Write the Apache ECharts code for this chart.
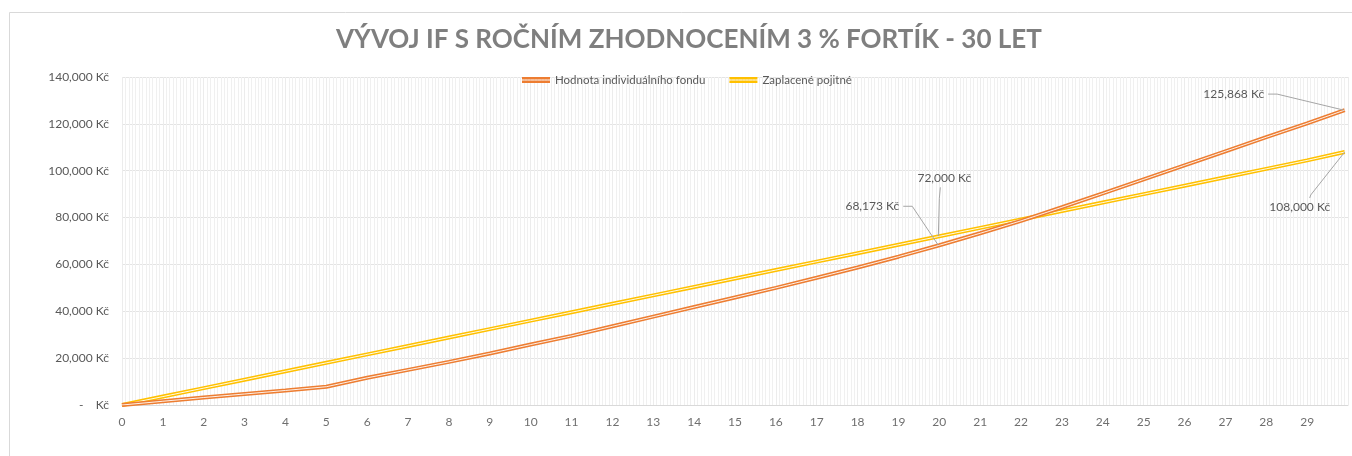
<!DOCTYPE html>
<html>
<head>
<meta charset="utf-8">
<script src="https://cdn.jsdelivr.net/npm/echarts@6/dist/echarts.min.js"></script>
<style>
  html, body { margin: 0; padding: 0; background: #fff; }
  #chart { width: 1352px; height: 456px; }
</style>
</head>
<body>
<div id="chart"></div>
<script>
// roky (posledni bod = 359. mesic)
const years = [0, 1, 2, 3, 4, 5, 6, 7, 8, 9, 10, 11, 12, 13, 14, 15, 16, 17, 18, 19, 20, 21, 22, 23, 24, 25, 26, 27, 28, 29, 29.92];
// Hodnota individualniho fondu
const fundValue = [0, 1600, 3200, 4700, 6200, 7800, 11600, 15000, 18400, 22000, 25800, 29500, 33600, 37700, 41800, 45900, 50000, 54300, 58700, 63300, 68173, 73300, 78600, 84400, 90300, 96300, 102300, 108300, 114300, 120200, 125868];
// Zaplacene pojistne
const paidPremium = [0, 3600, 7200, 10800, 14400, 18000, 21600, 25200, 28800, 32400, 36000, 39600, 43200, 46800, 50400, 54000, 57600, 61200, 64800, 68400, 72000, 75600, 79200, 82800, 86400, 90000, 93600, 97200, 100800, 104400, 108000];
// popisky v grafu (index do years)
const annotIdx = [20, 30];

const FUND = 'Hodnota individuálního fondu';
const PAID = 'Zaplacené pojitné';
const orange = '#ED7D31';
const yellow = '#FFC000';
const font = 'Lato, "Open Sans", sans-serif';

function pairs(vals) {
  return years.map((y, i) => [y, vals[i]]);
}
function kc(v) {
  return v.toLocaleString('en-US') + ' Kč';
}

const chart = echarts.init(document.getElementById('chart'));

// posun popisku od bodu + typ vodici cary
// 'side' = cara z praveho konce textu, 'below' = ze spodku, 'above' = z vrchu
const labelShift = [
  [-67, -39, 'side'],   // 68,173
  [-111, -16, 'side'],  // 125,868
  [5, -58, 'below'],    // 72,000
  [-45, 55, 'above']    // 108,000
];

let annotData = [];
annotIdx.forEach(i => annotData.push([years[i], fundValue[i]]));
annotIdx.forEach(i => annotData.push([years[i], paidPremium[i]]));

const option = {
  backgroundColor: '#fff',
  animation: false,
  title: {
    text: 'VÝVOJ IF S ROČNÍM ZHODNOCENÍM 3 % FORTÍK - 30 LET',
    left: 331,
    top: 22,
    textStyle: { fontFamily: font, fontSize: 26, fontWeight: 'bold', color: '#7f7f7f' }
  },
  legend: {
    top: 69,
    left: 517,
    itemWidth: 28,
    itemHeight: 6,
    itemGap: 24,
    textStyle: { fontFamily: font, fontSize: 11.5, color: '#595959' },
    data: [
      { name: FUND, icon: 'path://M0,0H28V2.5H0Z M0,3.5H28V6H0Z', itemStyle: { color: orange } },
      { name: PAID, icon: 'path://M0,0H28V2.5H0Z M0,3.5H28V6H0Z', itemStyle: { color: yellow } }
    ]
  },
  grid: { left: 122, right: 4, top: 77, bottom: 51 },
  xAxis: {
    type: 'value',
    min: 0,
    max: 30,
    interval: 1,
    axisLine: { show: true, lineStyle: { color: '#d9d9d9' } },
    axisTick: { show: false },
    axisLabel: {
      margin: 11,
      fontFamily: font, fontSize: 12, color: '#6f6f6f',
      formatter: v => (v >= 30 ? '' : String(v))
    },
    splitLine: { show: true, lineStyle: { color: '#ececec' } },
    minorTick: { show: false, splitNumber: 12 },
    minorSplitLine: { show: true, lineStyle: { color: '#f0f0f0' } }
  },
  yAxis: {
    type: 'value',
    min: 0,
    max: 140000,
    interval: 20000,
    axisLine: { show: false },
    axisTick: { show: false },
    axisLabel: {
      margin: 13,
      fontFamily: font, fontSize: 12, color: '#595959',
      formatter: v => (v === 0 ? '-    Kč' : kc(v))
    },
    splitLine: { lineStyle: { color: '#e4e4e4' } }
  },
  series: [
    {
      name: PAID, type: 'line', data: pairs(paidPremium),
      showSymbol: false, color: yellow,
      lineStyle: { width: 4, color: yellow }, z: 2
    },
    {
      name: PAID, type: 'line', data: pairs(paidPremium),
      showSymbol: false, silent: true, color: yellow,
      lineStyle: { width: 1, color: '#fffbe8' }, z: 3
    },
    {
      name: FUND, type: 'line', data: pairs(fundValue),
      showSymbol: false, color: orange,
      lineStyle: { width: 4, color: orange }, z: 4
    },
    {
      name: FUND, type: 'line', data: pairs(fundValue),
      showSymbol: false, silent: true, color: orange,
      lineStyle: { width: 1, color: '#fdf1ea' }, z: 5
    }
  ]
};

chart.setOption(option);

// popisky s vodicimi carami - pozice bodu z os grafu
const ctx = document.createElement('canvas').getContext('2d');
ctx.font = '12px ' + font;
let gr = [{
  type: 'rect',
  left: 7, top: 10,
  shape: { width: 1400, height: 500 },
  style: { fill: 'none', stroke: '#d9d9d9', lineWidth: 1 },
  silent: true
}];
annotData.forEach((d, k) => {
  const p = chart.convertToPixel({ gridIndex: 0 }, d);
  const s = labelShift[k];
  const txt = kc(d[1]);
  const w = ctx.measureText(txt).width;
  const lx = p[0] + s[0], ly = p[1] + s[1];
  let pts;
  if (s[2] == 'side') {
    pts = [[lx + w / 2 + 4, ly], [lx + w / 2 + 13, ly], [p[0] - 1, p[1]]];
  } else if (s[2] == 'below') {
    pts = [[lx - 4, ly + 9], [lx - 5, ly + 20], [p[0] - 1, p[1]]];
  } else {
    pts = [[lx + 10, ly - 9], [lx + 11, ly - 12], [p[0], p[1]]];
  }
  gr.push({
    type: 'polyline', z: 10, silent: true,
    shape: { points: pts },
    style: { stroke: '#a6a6a6', lineWidth: 1, fill: null }
  });
  gr.push({
    type: 'text', z: 10, silent: true,
    x: lx, y: ly,
    style: { text: txt, font: '12px ' + font, fill: '#595959', align: 'center', verticalAlign: 'middle' }
  });
});
chart.setOption({ graphic: gr });
</script>
</body>
</html>
